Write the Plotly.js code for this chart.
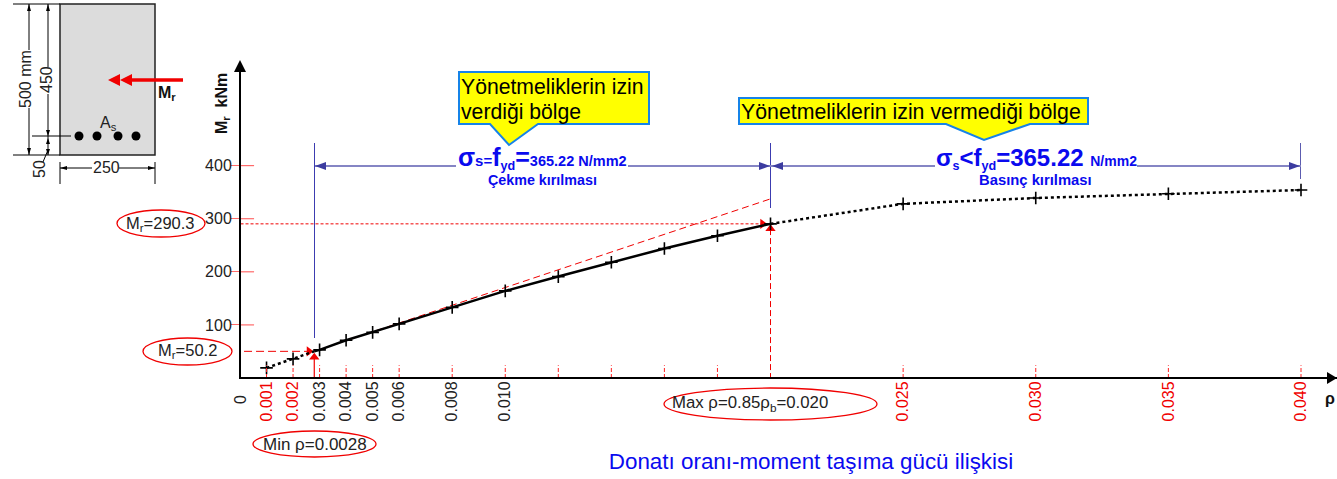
<!DOCTYPE html>
<html><head><meta charset="utf-8">
<script src="https://cdn.plot.ly/plotly-3.0.1.min.js"></script>
<style>html,body{margin:0;padding:0;background:#fff}#c{width:1337px;height:479px}</style></head>
<body><div id="c"></div>
<script>
// ---- Data ----
const rhoLow = [0.001, 0.002, 0.0028];
const mrLow = [19, 36, 50.2];
const rhoMid = [0.0028, 0.003, 0.004, 0.005, 0.006, 0.008, 0.010, 0.012, 0.014, 0.016, 0.018, 0.020];
const mrMid = [50.2, 53, 71, 86, 102, 133, 164, 191, 218, 244, 268, 290.3];
const rhoHigh = [0.020, 0.025, 0.030, 0.035, 0.040];
const mrHigh = [290.3, 328, 339, 347, 354];
const rhoMarks = [0.001, 0.002, 0.003, 0.004, 0.005, 0.006, 0.008, 0.010, 0.012, 0.014, 0.016, 0.018, 0.020, 0.025, 0.030, 0.035, 0.040];
const mrMarks = [19, 36, 53, 71, 86, 102, 133, 164, 191, 218, 244, 268, 290.3, 328, 339, 347, 354];
const xGuideVals = [0.001, 0.002, 0.003, 0.004, 0.005, 0.006, 0.008, 0.010, 0.012, 0.014, 0.016, 0.018, 0.025, 0.030, 0.035, 0.040];
const xTickVals = [0.001, 0.002, 0.003, 0.004, 0.005, 0.006, 0.008, 0.010, 0.025, 0.030, 0.035, 0.040];
const xTickText = ['0.001', '0.002', '0.003', '0.004', '0.005', '0.006', '0.008', '0.010', '0.025', '0.030', '0.035', '0.040'];
const xTickRed = ['0.001', '0.002', '0.025', '0.030', '0.035', '0.040'];
const yTickVals = [100, 200, 300, 400];
const tangentRho = [0.0028, 0.0201];
const tangentMr = [50.2, 339];

const RED = '#f00000', TICK = '#ff6a6a', BLUE = '#0a0aee', DIM = '#8585c4', DIMD = '#3c3ca0', EDGE = '#1683e8';

const traces = [
  {x: tangentRho, y: tangentMr, mode: 'lines', line: {color: RED, width: 1, dash: '7px,4px'}},
  {x: [-0.0013, 0.0198], y: [290.3, 290.3], mode: 'lines', cliponaxis: false, line: {color: RED, width: 1, dash: '3px,2px'}},
  {x: [-0.0003, 0.0026], y: [50.2, 50.2], mode: 'lines', cliponaxis: false, line: {color: RED, width: 1, dash: '8px,4px'}},
  {x: [0.020, 0.020], y: [-19, 280], mode: 'lines', cliponaxis: false, line: {color: RED, width: 1, dash: '6px,3px'}},
  {x: [0.0028, 0.0028], y: [-100, 42], mode: 'lines', cliponaxis: false, line: {color: RED, width: 1.2}},
  {x: [0.0026, 0.0197], y: [50.2, 290.3], mode: 'markers', cliponaxis: false, marker: {symbol: 'triangle-right', size: 9, color: RED}},
  {x: [0.0028, 0.020], y: [39, 281], mode: 'markers', cliponaxis: false, marker: {symbol: 'triangle-up', size: 9, color: RED}},
  {x: rhoLow, y: mrLow, mode: 'lines', line: {color: '#000', width: 2.5, dash: '3px,3px'}},
  {x: rhoMid, y: mrMid, mode: 'lines', line: {color: '#000', width: 2.5}},
  {x: rhoHigh, y: mrHigh, mode: 'lines', line: {color: '#000', width: 2.5, dash: '3px,3px'}},
  {x: rhoMarks, y: mrMarks, mode: 'markers', marker: {symbol: 'cross-thin', size: 9, color: '#000', line: {color: '#000', width: 1.6}}},
  // schematic on the page overlay: the four bars of the beam section
  {x: [79, 97, 118, 136], y: [136, 136, 136, 136], xaxis: 'x2', yaxis: 'y2', mode: 'markers', marker: {color: '#000', size: 9}}
];

const shapes = [];
function pg(o) { shapes.push(Object.assign({xref: 'x2', yref: 'y2', layer: 'above'}, o)); }
function ln(x0, y0, x1, y1, color, width, dash) { pg({type: 'line', x0, y0, x1, y1, line: {color, width, dash: dash || 'solid'}}); }
function tri(p, color) { pg({type: 'path', path: p, fillcolor: color, line: {width: 0}}); }
function oval(x0, y0, x1, y1) { pg({type: 'circle', x0, y0, x1, y1, line: {color: RED, width: 1.3}, fillcolor: 'rgba(255,255,255,0)'}); }
function callout(p) { pg({type: 'path', path: p, fillcolor: '#ffff00', line: {color: EDGE, width: 2}}); }

// axis-bound tick segments
xGuideVals.forEach(v => shapes.push({type: 'line', xref: 'x', yref: 'y', x0: v, x1: v, y0: 0, y1: 24, layer: 'above', line: {color: '#f22', width: 1, dash: '4px,2px'}}));
yTickVals.forEach(v => shapes.push({type: 'line', xref: 'x', yref: 'y', x0: 0, x1: 0.00053, y0: v, y1: v, layer: 'above', line: {color: TICK, width: 1.2}}));

// axis arrows
tri('M234,72 L246,72 L240,60 Z', '#000');
tri('M1327,372 L1337,378 L1327,384 Z', '#000');

// beam section
pg({type: 'rect', x0: 60, y0: 4, x1: 155, y1: 155, fillcolor: '#dcdcdc', line: {color: '#222', width: 1.5}, layer: 'below'});
ln(13, 4, 60, 4, '#000', 1); ln(13, 155, 60, 155, '#000', 1);
ln(29, 4, 29, 50, '#000', 1); ln(29, 108, 29, 155, '#000', 1);
ln(48, 4, 48, 67, '#000', 1); ln(48, 94, 48, 136, '#000', 1);
ln(32, 136, 71, 136, '#000', 1);
ln(48, 136, 48, 155, '#000', 1); ln(48, 150, 43, 162, '#000', 1);
ln(60, 162, 60, 184, '#000', 1); ln(155, 162, 155, 184, '#000', 1);
ln(60, 168, 92, 168, '#000', 1); ln(119, 168, 155, 168, '#000', 1);
tri('M27,11 L31,11 L29,4 Z', '#000'); tri('M27,148 L31,148 L29,155 Z', '#000');
tri('M46,11 L50,11 L48,4 Z', '#000'); tri('M46,130 L50,130 L48,136 Z', '#000');
tri('M46,144 L50,144 L48,138 Z', '#000'); tri('M46,149 L50,149 L48,155 Z', '#000');
tri('M67,166 L67,170 L60,168 Z', '#000'); tri('M148,166 L148,170 L155,168 Z', '#000');
ln(130, 80, 183, 80, RED, 3.5);
tri('M120,74 L120,86 L108,80 Z', RED); tri('M132,74 L132,86 L120,80 Z', RED);

// dimension lines over the curve
ln(314.5, 143, 314.5, 338, '#3c3cb0', 1); ln(770.5, 143, 770.5, 208, '#3c3cb0', 1); ln(1300.5, 143, 1300.5, 179, '#5c5cb0', 1);
ln(315, 166, 456, 166, DIM, 2); ln(628, 166, 771, 166, DIM, 2);
ln(771, 166, 935, 166, DIM, 2); ln(1137, 166, 1301, 166, DIM, 2);
tri('M315,166 L326,162 L326,170 Z', DIMD); tri('M770,166 L759,162 L759,170 Z', DIMD);
tri('M772,166 L783,162 L783,170 Z', DIMD); tri('M1300,166 L1289,162 L1289,170 Z', DIMD);

// callouts
callout('M459,72 L649,72 L649,124 L538,124 L509,145 L490,124 L459,124 Z');
callout('M739,98 L1088,98 L1088,124 L1030,124 L984,140 L946,124 L739,124 Z');

// ovals
oval(117, 210, 205, 237); oval(143, 338, 232, 365); oval(253, 431, 376, 457); oval(664, 388, 877, 420);

const annotations = [];
function txt(text, x, y, size, color, o) {
  annotations.push(Object.assign({xref: 'x2', yref: 'y2', x, y, text, showarrow: false, xanchor: 'center', yanchor: 'middle',
    font: {size, color: color || '#222', family: 'Liberation Sans, Arial, sans-serif'}}, o || {}));
}
const s = (t, n) => '<span style="font-size:' + n + 'px">' + t + '</span>';

txt('0', 240, 400, 16, '#222', {textangle: -90});
txt('500 mm', 25, 79, 16, '#222', {textangle: -90});
txt('450', 46, 80, 16, '#222', {textangle: -90});
txt('50', 39, 169, 16, '#222', {textangle: -90});
txt('250', 106, 167, 16);
txt('A<sub>s</sub>', 108, 123, 16);
txt('<b>M<sub>r</sub></b>', 167, 93, 16, '#111');
txt('<b>M<sub>r</sub>&nbsp;&nbsp;kNm</b>', 222, 104, 16, '#111', {textangle: -90});
txt('<b>ρ</b>', 1330, 398, 16, '#111');
txt('Yönetmeliklerin izin', 458.5, 86, 21.2, '#000', {xanchor: 'left'});
txt('verdiği bölge', 458.5, 112, 21.2, '#000', {xanchor: 'left'});
txt('Yönetmeliklerin izin vermediği bölge', 739, 112, 21.3, '#000', {xanchor: 'left'});
txt('<b>' + s('σ', 25) + s('s=', 15) + s('f', 25) + s('<sub>yd</sub>', 18) + s('=', 25) + s('365.22 N/mm2', 14.5) + '</b>', 542, 158, 14, BLUE);
txt('<b>' + s('σ', 24) + s('<sub>s</sub>', 18) + s('&lt;f', 24) + s('<sub>yd</sub>', 18) + s('=365.22 ', 24) + s('N/mm2', 14) + '</b>', 1036, 158, 14, BLUE);
txt('<b>Çekme kırılması</b>', 542, 180, 14.3, BLUE);
txt('<b>Basınç kırılması</b>', 1035, 180, 14.8, BLUE);
txt('M<sub>r</sub>=290.3', 160, 224, 16.5);
txt('M<sub>r</sub>=50.2', 187, 351, 16.5);
txt('Min ρ=0.0028', 315, 444, 17);
txt('Max ρ=0.85ρ<sub>b</sub>=0.020', 750, 403, 16.8);

const layout = {
  width: 1337, height: 479,
  margin: {l: 0, r: 0, t: 0, b: 0},
  paper_bgcolor: '#fff', plot_bgcolor: 'rgba(0,0,0,0)',
  showlegend: false, hovermode: false,
  font: {family: 'Liberation Sans, Arial, sans-serif', color: '#222'},
  title: {text: 'Donatı oranı-moment taşıma gücü ilişkisi', x: 811 / 1337, xanchor: 'center', y: 18 / 479, yanchor: 'middle', yref: 'container',
          font: {size: 22.4, color: '#0a0af0', family: 'Liberation Sans, Arial, sans-serif'}},
  xaxis: {domain: [241 / 1337, 1], range: [1 / 26525, 1097 / 26525], showgrid: false, zeroline: false, showline: true, linecolor: '#000', linewidth: 2,
    tickmode: 'array', tickvals: xTickVals,
    ticktext: xTickText.map(t => xTickRed.includes(t) ? '<span style="color:#f00000">' + t + '</span>' : t),
    tickangle: -90, ticks: '', ticklabelstandoff: -4, tickfont: {size: 16, color: '#222'}, anchor: 'y'},
  yaxis: {domain: [102 / 479, 414 / 479], range: [1 / 0.531, 313 / 0.531], showgrid: false, zeroline: false, showline: true, linecolor: '#000', linewidth: 2,
    tickmode: 'array', tickvals: yTickVals, ticks: 'outside', ticklen: 8, ticklabelstandoff: -4, tickcolor: TICK, tickwidth: 1.2, tickfont: {size: 16, color: '#222'}, anchor: 'x'},
  xaxis2: {domain: [0, 1], range: [0, 1337], visible: false, fixedrange: true, anchor: 'y2'},
  yaxis2: {domain: [0, 1], range: [479, 0], visible: false, fixedrange: true, anchor: 'x2'},
  shapes, annotations
};
Plotly.newPlot('c', traces, layout, {displayModeBar: false, staticPlot: true});
</script></body></html>
